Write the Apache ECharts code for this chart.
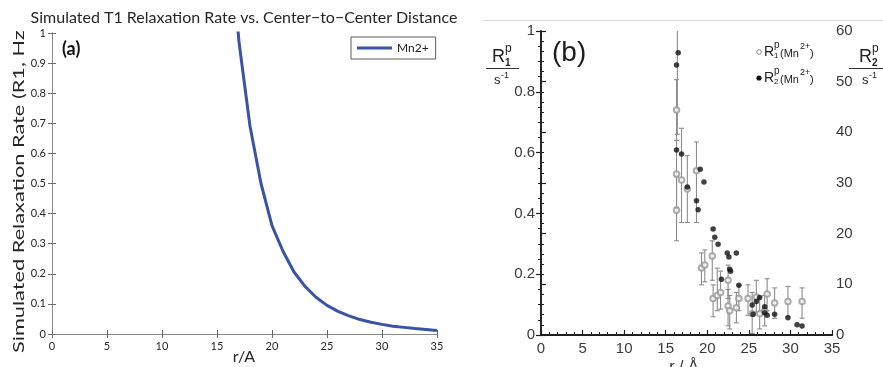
<!DOCTYPE html>
<html>
<head>
<meta charset="utf-8">
<script src="https://cdn.jsdelivr.net/npm/echarts@6/dist/echarts.min.js"></script>
<style>
  html, body { margin: 0; padding: 0; background: #fff; }
  #chart { width: 883px; height: 367px; }
</style>
</head>
<body>
<div id="chart"></div>
<script>
// ---- Panel (a): simulated T1 relaxation rate against distance ----
const simDistance = [16, 17, 18, 19, 20, 21, 22, 23, 24, 25, 26, 27, 28, 29, 30, 31, 32, 33, 34, 35];
const simR1 = [1.39, 0.97, 0.69, 0.50, 0.36, 0.275, 0.206, 0.158, 0.122, 0.095, 0.075, 0.060, 0.048, 0.039, 0.032, 0.026, 0.022, 0.018, 0.015, 0.012];
const simXTicks = [0, 5, 10, 15, 20, 25, 30, 35];
const simYTicks = [0, 0.1, 0.2, 0.3, 0.4, 0.5, 0.6, 0.7, 0.8, 0.9, 1];

// ---- Panel (b): measured paramagnetic rates ----
const r1Distance = [16.3, 16.3, 16.3, 16.4, 16.9, 17.6, 18.7, 19.3, 19.7, 20.6, 20.7, 21.2, 21.6, 22.5, 22.5, 22.7, 23.5, 23.8, 24.9, 25.4, 25.9, 26.3, 26.9, 27.2, 28.1, 29.7, 31.4];
const r1Rate     = [0.74, 0.53, 0.41, 1.10, 0.51, 0.48, 0.54, 0.22, 0.23, 0.26, 0.12, 0.13, 0.14, 0.18, 0.095, 0.08, 0.09, 0.12, 0.12, 0.07, 0.125, 0.07, 0.08, 0.135, 0.105, 0.11, 0.11];
const r1Low      = [0.64, 0.42, 0.31, 0.66, 0.37, 0.37, 0.37, 0.165, 0.175, 0.18, 0.06, 0.08, 0.085, 0.12, 0.03, 0.02, 0.04, 0.08, 0.065, 0.005, 0.075, 0.02, 0.03, 0.08, 0.055, 0.06, 0.055];
const r1High     = [0.84, 0.64, 0.52, 1.50, 0.68, 0.59, 0.635, 0.27, 0.28, 0.31, 0.165, 0.22, 0.21, 0.23, 0.15, 0.13, 0.14, 0.165, 0.165, 0.14, 0.18, 0.125, 0.13, 0.185, 0.155, 0.16, 0.155];

const r2Distance = [16.5, 16.3, 16.3, 16.9, 17.6, 19.15, 19.6, 18.7, 18.9, 20.7, 20.9, 21.3, 22.4, 22.6, 23.5, 22.7, 22.8, 21.7, 23.8, 25.4, 25.5, 25.9, 26.3, 26.9, 26.9, 27.2, 28.1, 29.7, 30.8, 31.4];
const r2Rate     = [55.7, 53.3, 36.5, 35.7, 29.2, 32.7, 30.2, 26.5, 24.7, 20.9, 19.3, 17.9, 16.2, 15.4, 16.2, 13.0, 12.6, 11.0, 9.8, 5.9, 4.1, 6.6, 7.4, 5.6, 4.4, 3.9, 4.1, 3.4, 2.0, 1.8];

const expXTicks = [0, 5, 10, 15, 20, 25, 30, 35];
const expR1Ticks = [0, 0.2, 0.4, 0.6, 0.8, 1];
const expR2Ticks = [0, 10, 20, 30, 40, 50, 60];

const FA = 'Lato, "Open Sans", sans-serif';
const FB = '"Liberation Sans", Arial, sans-serif';
const step = a => a[1] - a[0];
const last = a => a[a.length - 1];

const chart = echarts.init(document.getElementById('chart'), null, { renderer: 'canvas' });

const boxLine = { lineStyle: { color: '#8a8a8a', width: 1 } };
const boxTick = { inside: true, length: 4, lineStyle: { color: '#6a6a6a', width: 1 } };
const expLine = { lineStyle: { color: '#1e1e1e', width: 1.6 } };
const expLabel = { fontFamily: FB, fontSize: 15, color: '#3a3a3a' };

const option = {
  animation: false,
  backgroundColor: '#fff',
  grid: [
    { left: 52, top: 33, width: 385, height: 301, outerBoundsMode: 'none', containLabel: false },
    { left: 541, top: 31, width: 291, height: 304, outerBoundsMode: 'none', containLabel: false }
  ],
  xAxis: [
    {
      gridIndex: 0, type: 'value', position: 'bottom',
      min: simXTicks[0], max: last(simXTicks), interval: step(simXTicks),
      axisLine: boxLine, axisTick: boxTick, splitLine: { show: false },
      axisLabel: { fontFamily: FA, fontSize: 11, color: '#262626', margin: 7 }
    },
    {
      gridIndex: 0, type: 'value', position: 'top',
      min: simXTicks[0], max: last(simXTicks), interval: step(simXTicks),
      axisLine: boxLine, axisTick: boxTick, axisLabel: { show: false }, splitLine: { show: false }
    },
    {
      gridIndex: 1, type: 'value', position: 'bottom',
      min: expXTicks[0], max: last(expXTicks), interval: step(expXTicks),
      axisLine: expLine,
      axisTick: { inside: true, length: 5, lineStyle: { color: '#1e1e1e', width: 1.2 } },
      minorTick: { show: true, splitNumber: 5, length: 3, lineStyle: { color: '#1e1e1e', width: 1 } },
      splitLine: { show: false },
      axisLabel: { ...expLabel, margin: 6 }
    },
    {
      gridIndex: 1, type: 'value', position: 'top',
      min: expXTicks[0], max: last(expXTicks),
      axisLine: { lineStyle: { color: '#1e1e1e', width: 2 } },
      axisTick: { show: false }, axisLabel: { show: false }, splitLine: { show: false }
    }
  ],
  yAxis: [
    {
      gridIndex: 0, type: 'value', position: 'left',
      min: simYTicks[0], max: last(simYTicks), interval: step(simYTicks),
      axisLine: { show: true, ...boxLine }, axisTick: boxTick, splitLine: { show: false },
      axisLabel: { fontFamily: FA, fontSize: 11, color: '#262626', margin: 6 }
    },
    {
      gridIndex: 0, type: 'value', position: 'right',
      min: simYTicks[0], max: last(simYTicks), interval: step(simYTicks),
      axisLine: { show: true, ...boxLine }, axisTick: boxTick,
      axisLabel: { show: false }, splitLine: { show: false }
    },
    {
      gridIndex: 1, type: 'value', position: 'left',
      min: expR1Ticks[0], max: last(expR1Ticks), interval: step(expR1Ticks),
      axisLine: { show: true, ...expLine },
      axisTick: { show: true, length: 5, lineStyle: { color: '#1e1e1e', width: 1.2 } },
      minorTick: { show: true, splitNumber: 4, length: 3, lineStyle: { color: '#1e1e1e', width: 1 } },
      splitLine: { show: false },
      axisLabel: { ...expLabel, margin: 6 }
    },
    {
      gridIndex: 1, type: 'value', position: 'right',
      min: expR2Ticks[0], max: last(expR2Ticks), interval: step(expR2Ticks),
      axisLine: { show: true, ...expLine },
      axisTick: { show: true, length: 5, lineStyle: { color: '#1e1e1e', width: 1.2 } },
      minorTick: { show: true, splitNumber: 5, length: 3, lineStyle: { color: '#1e1e1e', width: 1 } },
      splitLine: { show: false },
      axisLabel: { ...expLabel, margin: 4 }
    }
  ],
  legend: {
    data: ['Mn2+'],
    left: 351, top: 37,
    padding: [5, 7, 5, 6],
    borderColor: '#5a5a5a', borderWidth: 1, backgroundColor: '#fff',
    icon: 'rect', itemWidth: 35, itemHeight: 3,
    textStyle: { fontFamily: FA, fontSize: 12, color: '#222' }
  },
  series: [
    {
      name: 'Mn2+', type: 'line', xAxisIndex: 0, yAxisIndex: 0,
      data: simDistance.map((d, i) => [d, simR1[i]]),
      showSymbol: false, clip: true,
      lineStyle: { color: '#3a53a4', width: 3 },
      itemStyle: { color: '#3a53a4' }
    },
    {
      name: 'R1 error', type: 'custom', xAxisIndex: 2, yAxisIndex: 2, clip: true,
      data: r1Distance.map((d, i) => [d, r1Rate[i], r1Low[i], r1High[i]]),
      renderItem: function (params, api) {
        const x = api.value(0);
        const lo = api.coord([x, api.value(2)]);
        const hi = api.coord([x, api.value(3)]);
        const cap = 2.5;
        const st = { stroke: '#8c8c8c', lineWidth: 1.1 };
        return {
          type: 'group',
          children: [
            { type: 'line', shape: { x1: lo[0], y1: lo[1], x2: hi[0], y2: hi[1] }, style: st },
            { type: 'line', shape: { x1: lo[0] - cap, y1: lo[1], x2: lo[0] + cap, y2: lo[1] }, style: st },
            { type: 'line', shape: { x1: hi[0] - cap, y1: hi[1], x2: hi[0] + cap, y2: hi[1] }, style: st }
          ]
        };
      },
      z: 2
    },
    {
      name: 'R1', type: 'scatter', xAxisIndex: 2, yAxisIndex: 2, clip: true,
      data: r1Distance.map((d, i) => [d, r1Rate[i]]),
      symbol: 'emptyCircle', symbolSize: 5.5,
      itemStyle: { color: '#999', borderWidth: 1 },
      z: 3
    },
    {
      name: 'R2', type: 'scatter', xAxisIndex: 2, yAxisIndex: 3, clip: true,
      data: r2Distance.map((d, i) => [d, r2Rate[i]]),
      symbol: 'circle', symbolSize: 5.5,
      itemStyle: { color: '#111' },
      z: 4
    }
  ],
  graphic: [
    // panel (a) title and labels
    { type: 'text', x: 244, y: 18, style: { text: 'Simulated T1 Relaxation Rate vs. Center\u2212to\u2212Center Distance', font: '16px ' + FA, fill: '#262626', align: 'center', verticalAlign: 'middle' } },
    { type: 'text', x: 19, y: 353, rotation: Math.PI / 2, scaleX: 1.45, style: { text: 'Simulated Relaxation Rate (R1, Hz', font: '15px ' + FA, fill: '#262626', align: 'left', verticalAlign: 'middle' } },
    { type: 'text', x: 244, y: 357, style: { text: 'r/A', font: '16px ' + FA, fill: '#262626', align: 'center', verticalAlign: 'middle' } },
    { type: 'text', x: 62, y: 49, style: { text: '(a)', font: 'bold 18px ' + FA, fill: '#111', align: 'left', verticalAlign: 'middle' } },

    // panel (b) frame decoration and labels
    { type: 'line', shape: { x1: 483, y1: 20.5, x2: 883, y2: 20.5 }, style: { stroke: '#dcdcdc', lineWidth: 1 } },
    { type: 'text', x: 552, y: 53, style: { text: '(b)', font: '28px ' + FB, fill: '#1e1e1e', align: 'left', verticalAlign: 'middle' } },
    { type: 'text', x: 684, y: 360, style: { text: 'r / \u00c5', font: '16px ' + FB, fill: '#333', align: 'center', verticalAlign: 'top' } },

    // left unit fraction R1p / s-1
    { type: 'text', x: 492, y: 57, style: { text: 'R', font: '18px ' + FB, fill: '#222', verticalAlign: 'middle' } },
    { type: 'text', x: 505, y: 49, style: { text: 'p', font: '12px ' + FB, fill: '#222', verticalAlign: 'middle' } },
    { type: 'text', x: 505, y: 63, style: { text: '1', font: 'bold 10px ' + FB, fill: '#222', verticalAlign: 'middle' } },
    { type: 'line', shape: { x1: 486, y1: 68.5, x2: 519, y2: 68.5 }, style: { stroke: '#333', lineWidth: 1 } },
    { type: 'text', x: 494, y: 80, style: { text: 's', font: '13px ' + FB, fill: '#222', verticalAlign: 'middle' } },
    { type: 'text', x: 501, y: 76, style: { text: '-1', font: '9px ' + FB, fill: '#222', verticalAlign: 'middle' } },

    // right unit fraction R2p / s-1
    { type: 'text', x: 859, y: 57, style: { text: 'R', font: '18px ' + FB, fill: '#222', verticalAlign: 'middle' } },
    { type: 'text', x: 872, y: 49, style: { text: 'p', font: '12px ' + FB, fill: '#222', verticalAlign: 'middle' } },
    { type: 'text', x: 872, y: 63, style: { text: '2', font: 'bold 10px ' + FB, fill: '#222', verticalAlign: 'middle' } },
    { type: 'line', shape: { x1: 849, y1: 68.5, x2: 883, y2: 68.5 }, style: { stroke: '#333', lineWidth: 1 } },
    { type: 'text', x: 862, y: 80, style: { text: 's', font: '13px ' + FB, fill: '#222', verticalAlign: 'middle' } },
    { type: 'text', x: 869, y: 76, style: { text: '-1', font: '9px ' + FB, fill: '#222', verticalAlign: 'middle' } },

    // legend of panel (b)
    { type: 'circle', shape: { cx: 759, cy: 52, r: 2.3 }, style: { fill: '#fff', stroke: '#8a8a8a', lineWidth: 1 } },
    { type: 'text', x: 764, y: 52, style: { text: 'R', font: '14px ' + FB, fill: '#222', verticalAlign: 'middle' } },
    { type: 'text', x: 774, y: 45, style: { text: 'p', font: '10px ' + FB, fill: '#222', verticalAlign: 'middle' } },
    { type: 'text', x: 774, y: 56, style: { text: '1', font: '8px ' + FB, fill: '#222', verticalAlign: 'middle' } },
    { type: 'text', x: 780, y: 54, style: { text: '(Mn', font: '11px ' + FB, fill: '#222', verticalAlign: 'middle' } },
    { type: 'text', x: 800, y: 47, style: { text: '2+', font: '9px ' + FB, fill: '#222', verticalAlign: 'middle' } },
    { type: 'text', x: 810, y: 54, style: { text: ')', font: '11px ' + FB, fill: '#222', verticalAlign: 'middle' } },

    { type: 'circle', shape: { cx: 759, cy: 78, r: 2.6 }, style: { fill: '#111' } },
    { type: 'text', x: 764, y: 78, style: { text: 'R', font: '14px ' + FB, fill: '#222', verticalAlign: 'middle' } },
    { type: 'text', x: 774, y: 71, style: { text: 'p', font: '10px ' + FB, fill: '#222', verticalAlign: 'middle' } },
    { type: 'text', x: 774, y: 82, style: { text: '2', font: '8px ' + FB, fill: '#222', verticalAlign: 'middle' } },
    { type: 'text', x: 780, y: 80, style: { text: '(Mn', font: '11px ' + FB, fill: '#222', verticalAlign: 'middle' } },
    { type: 'text', x: 800, y: 73, style: { text: '2+', font: '9px ' + FB, fill: '#222', verticalAlign: 'middle' } },
    { type: 'text', x: 810, y: 80, style: { text: ')', font: '11px ' + FB, fill: '#222', verticalAlign: 'middle' } }
  ]
};

chart.setOption(option);
</script>
</body>
</html>
